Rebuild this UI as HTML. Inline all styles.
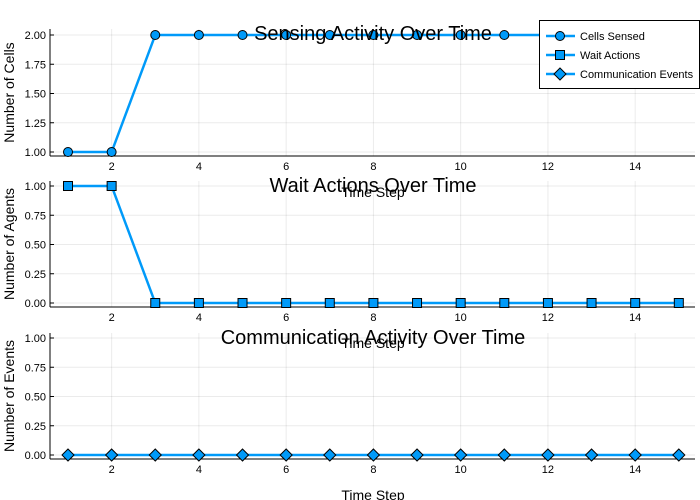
<!DOCTYPE html>
<html><head><meta charset="utf-8"><style>
body{margin:0;background:#fff;}
svg{display:block;font-family:"Liberation Sans",sans-serif;}
</style></head><body>
<svg id="c" width="700" height="500" viewBox="0 0 700 500"></svg>
<script>
const timeSteps=[1,2,3,4,5,6,7,8,9,10,11,12,13,14,15];
const cellsSensed=[1,1,2,2,2,2,2,2,2,2,2,2,2,2,2];
const waitActions=[1,1,0,0,0,0,0,0,0,0,0,0,0,0,0];
const commEvents=[0,0,0,0,0,0,0,0,0,0,0,0,0,0,0];
const xTicks=[2,4,6,8,10,12,14];
const yTicks1=[1.00,1.25,1.50,1.75,2.00];
const yTicks01=[0.00,0.25,0.50,0.75,1.00];
const NS="http://www.w3.org/2000/svg";
const svg=document.getElementById('c');
function mk(t,a,p){const e=document.createElementNS(NS,t);for(const k in a)e.setAttribute(k,a[k]);(p||svg).appendChild(e);return e;}
const X=v=>68+(v-1)*43.63;
const panels=[
 {title:"Sensing Activity Over Time",ylabel:"Number of Cells",data:cellsSensed,ticks:yTicks1,ymin:1,ymax:2,yTop:35,yBot:152,top:29,bot:156,marker:"circle",name:"sensing"},
 {title:"Wait Actions Over Time",ylabel:"Number of Agents",data:waitActions,ticks:yTicks01,ymin:0,ymax:1,yTop:186,yBot:303,top:181,bot:307,marker:"square",name:"wait"},
 {title:"Communication Activity Over Time",ylabel:"Number of Events",data:commEvents,ticks:yTicks01,ymin:0,ymax:1,yTop:338,yBot:455,top:333,bot:459,marker:"diamond",name:"communication"}
];
panels.forEach(p=>{
 const g=mk('g',{});
 
 
 const Y=v=>p.yBot-(v-p.ymin)/(p.ymax-p.ymin)*(p.yBot-p.yTop);
 xTicks.forEach(t=>{mk('line',{x1:X(t),x2:X(t),y1:p.top,y2:p.bot,stroke:'#000','stroke-opacity':0.08},g);
  const tx=mk('text',{x:X(t),y:p.bot+14,'font-size':11,'text-anchor':'middle',fill:'#000'},g);tx.textContent=t;
  });
 p.ticks.forEach(t=>{mk('line',{x1:50,x2:695,y1:Y(t),y2:Y(t),stroke:'#000','stroke-opacity':0.08},g);
  mk('line',{x1:50,x2:54,y1:Y(t),y2:Y(t),stroke:'#000'},g);
  const tx=mk('text',{x:46,y:Y(t)+4,'font-size':11,'text-anchor':'end',fill:'#000'},g);tx.textContent=t.toFixed(2);
  });
 mk('line',{x1:50,x2:50,y1:p.top,y2:p.bot,stroke:'#000','stroke-width':1},g);
 mk('line',{x1:50,x2:695,y1:p.bot,y2:p.bot,stroke:'#000','stroke-width':1},g);
 const pts=p.data.map((v,i)=>X(timeSteps[i])+','+Y(v)).join(' ');
 const pl=mk('polyline',{points:pts,fill:'none',stroke:'#009af9','stroke-width':2.5},g);
 
 p.data.forEach((v,i)=>{const x=X(timeSteps[i]),y=Y(v);let m;
  if(p.marker==='circle')m=mk('circle',{cx:x,cy:y,r:4.5,fill:'#009af9',stroke:'#000','stroke-width':1},g);
  else if(p.marker==='square')m=mk('rect',{x:x-4.5,y:y-4.5,width:9,height:9,fill:'#009af9',stroke:'#000','stroke-width':1},g);
  else m=mk('polygon',{points:`${x},${y-6} ${x+6},${y} ${x},${y+6} ${x-6},${y}`,fill:'#009af9',stroke:'#000','stroke-width':1},g);
  });
 const tt=mk('text',{x:373,y:p.top+11,'font-size':20,'text-anchor':'middle',fill:'#000'},g);tt.textContent=p.title;
 
 const xl=mk('text',{x:373,y:p.bot+41,'font-size':14,'text-anchor':'middle',fill:'#000'},g);xl.textContent="Time Step";
 
 const cy=(p.top+p.bot)/2;
 const yl=mk('text',{x:14,y:cy,'font-size':14,'text-anchor':'middle',fill:'#000',transform:`rotate(-90 14 ${cy})`},g);yl.textContent=p.ylabel;
 
});
// legend
const lg=mk('g',{});


mk('rect',{x:539.5,y:20.5,width:160,height:68,fill:'#fff',stroke:'#000','stroke-width':1},lg);
const labels=["Cells Sensed","Wait Actions","Communication Events"];
labels.forEach((l,i)=>{const y=36+i*19,x=560;
 mk('line',{x1:546,x2:575,y1:y,y2:y,stroke:'#009af9','stroke-width':2.5},lg);
 if(i===0)mk('circle',{cx:x,cy:y,r:4.5,fill:'#009af9',stroke:'#000'},lg);
 else if(i===1)mk('rect',{x:x-4.5,y:y-4.5,width:9,height:9,fill:'#009af9',stroke:'#000'},lg);
 else mk('polygon',{points:`${x},${y-6} ${x+6},${y} ${x},${y+6} ${x-6},${y}`,fill:'#009af9',stroke:'#000'},lg);
 const t=mk('text',{x:580,y:y+4,'font-size':11,fill:'#000'},lg);t.textContent=l;
 });
</script>
</body></html>
